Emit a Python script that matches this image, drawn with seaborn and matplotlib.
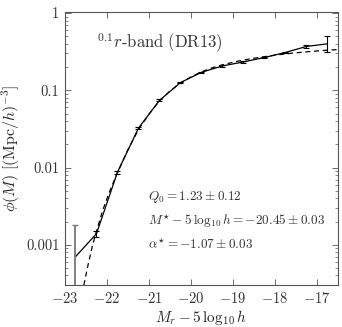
import numpy as np
import pandas as pd
import seaborn as sns
import matplotlib.pyplot as plt
from matplotlib.ticker import FixedLocator, FixedFormatter, LogLocator, NullFormatter

# measured luminosity function (points, solid line)
MAG = [-22.75, -22.25, -21.75, -21.25, -20.75, -20.25, -19.75,
       -19.25, -18.75, -18.25, -17.75, -17.25, -16.75]
PHI = [0.0007, 0.00139, 0.0087, 0.0324, 0.074, 0.126, 0.171,
       0.207, 0.233, 0.266, 0.309, 0.37, 0.40]
ERR_LO = [0.00069, 0.00012, 0.0004, 0.0012, 0.0022, 0.003, 0.004,
          0.004, 0.004, 0.005, 0.006, 0.015, 0.09]
ERR_HI = [0.0011, 0.00013, 0.0004, 0.0012, 0.0022, 0.003, 0.004,
          0.004, 0.004, 0.005, 0.006, 0.015, 0.10]

# Schechter fit (dashed line)
FIT_MAG = [-22.55, -22.45, -22.35, -22.25, -22.1, -21.95, -21.75, -21.5,
           -21.25, -21.0, -20.75, -20.5, -20.25, -20.0, -19.75, -19.5,
           -19.25, -19.0, -18.75, -18.5, -18.25, -18.0, -17.75, -17.5,
           -17.25, -17.0, -16.75, -16.5]
FIT_PHI = [0.0003, 0.00055, 0.00095, 0.0015, 0.0028, 0.0047, 0.0086, 0.017,
           0.031, 0.049, 0.073, 0.098, 0.124, 0.149, 0.173, 0.195,
           0.214, 0.231, 0.246, 0.26, 0.273, 0.285, 0.296, 0.306,
           0.315, 0.323, 0.331, 0.337]

X_TICKS = [-23, -22, -21, -20, -19, -18, -17]
Y_TICKS = [0.001, 0.01, 0.1, 1]
Y_LABELS = ["0.001", "0.01", "0.1", "1"]


def main():
    sns.set_theme(style="ticks")
    plt.rcParams.update({
        "font.family": ["cmr10", "DejaVu Serif"],
        "mathtext.fontset": "cm",
        "axes.formatter.use_mathtext": True,
        "axes.edgecolor": "#555555",
        "axes.linewidth": 0.8,
        "xtick.color": "#555555",
        "ytick.color": "#555555",
        "xtick.labelcolor": "#333333",
        "ytick.labelcolor": "#333333",
        "xtick.direction": "in",
        "ytick.direction": "in",
        "xtick.top": True,
        "ytick.right": True,
    })

    fig = plt.figure(figsize=(3.42, 3.27), dpi=100)
    ax = fig.add_axes([0.19, 0.128, 0.798, 0.835])

    data = pd.DataFrame({"M": MAG, "phi": PHI})
    fit = pd.DataFrame({"M": FIT_MAG, "phi": FIT_PHI})

    sns.lineplot(data=fit, x="M", y="phi", ax=ax, color="black", lw=0.9,
                 linestyle=(0, (4, 3)), sort=False)
    sns.lineplot(data=data, x="M", y="phi", ax=ax, color="black", lw=0.9, sort=False)

    ax.errorbar(MAG[:1], PHI[:1], yerr=[ERR_LO[:1], ERR_HI[:1]], fmt="none",
                ecolor="#777777", elinewidth=1.3, capsize=2.5, capthick=1.0)
    ax.errorbar(MAG[1:], PHI[1:], yerr=[ERR_LO[1:], ERR_HI[1:]], fmt="none",
                ecolor="black", elinewidth=0.8, capsize=2.5, capthick=0.8)

    ax.set_yscale("log")
    ax.set_xlim(-23, -16.5)
    ax.set_ylim(0.0003, 1.03)

    ax.xaxis.set_major_locator(FixedLocator(X_TICKS))
    ax.set_xticklabels([f"$-{abs(t)}$" for t in X_TICKS])
    ax.yaxis.set_major_locator(FixedLocator(Y_TICKS))
    ax.yaxis.set_major_formatter(FixedFormatter(Y_LABELS))
    ax.yaxis.set_minor_locator(LogLocator(base=10, subs=np.arange(2, 10)))
    ax.yaxis.set_minor_formatter(NullFormatter())
    ax.tick_params(which="major", length=4, width=0.6, labelsize=10.5, pad=4)
    ax.tick_params(which="minor", length=2, width=0.5)

    ax.set_xlabel(r"$M_r - 5\,\log_{10} h$", fontsize=11, labelpad=2)
    ax.set_ylabel(r"$\phi(M)\ [(\mathrm{Mpc}/h)^{-3}]$", fontsize=11.5, labelpad=3)

    ax.text(0.117, 0.886, r"$^{0.1}r\mathrm{\text{-}band\ (DR13)}$", transform=ax.transAxes,
            fontsize=12, color="#333333", va="center", ha="left")
    ax.text(0.304, 0.322, r"$Q_0 = 1.23 \pm 0.12$", transform=ax.transAxes,
            fontsize=9.5, color="#333333", va="center", ha="left")
    ax.text(0.304, 0.234, r"$M^{\star} - 5\,\log_{10} h = -20.45 \pm 0.03$",
            transform=ax.transAxes, fontsize=9.5, color="#333333", va="center", ha="left")
    ax.text(0.304, 0.150, r"$\alpha^{\star} = -1.07 \pm 0.03$", transform=ax.transAxes,
            fontsize=9.5, color="#333333", va="center", ha="left")

    fig.savefig("out.png", dpi=100)


if __name__ == "__main__":
    main()
